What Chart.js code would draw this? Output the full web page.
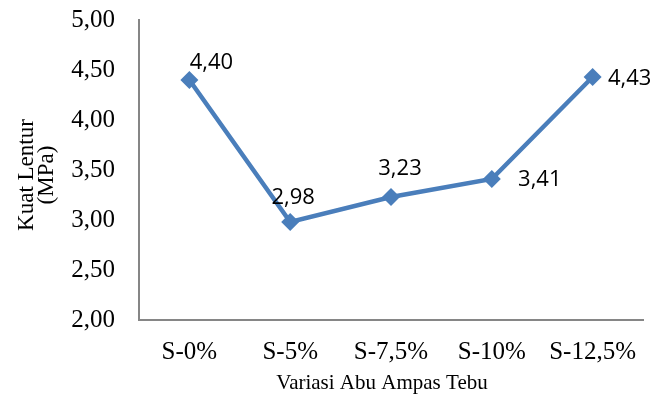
<!DOCTYPE html>
<html>
<head>
<meta charset="utf-8">
<script src="https://cdn.jsdelivr.net/npm/chart.js@4/dist/chart.umd.min.js"></script>
<style>
  html, body { margin: 0; padding: 0; background: #ffffff; }
  #wrap { width: 670px; height: 394px; }
</style>
</head>
<body>
<div id="wrap"><canvas id="c" width="670" height="394"></canvas></div>
<script>
// ---- data ----
const categories = ["S-0%", "S-5%", "S-7,5%", "S-10%", "S-12,5%"];
const kuatLentur = [4.40, 2.98, 3.23, 3.41, 4.43];
const yTickMin = 2.0;
const yTickMax = 5.0;
const yTickStep = 0.5;
const xAxisTitle = "Variasi Abu Ampas Tebu";
const yAxisTitle = ["Kuat Lentur", "(MPa)"];

// ---- style ----
const BLUE = '#4a7ebb';
const AXIS_GRAY = '#868686';
const SERIF = '"Liberation Serif", "Times New Roman", serif';
const SANS = '"Open Sans", Lato, sans-serif';
// label offsets relative to each point (centre of text)
const labelOffsets = [[22, -17], [3, -24], [9, -28], [48, 1], [37, 2]];

function fmt(v) { return v.toFixed(2).replace('.', ','); }

const dataLabels = {
  id: 'dataLabels',
  afterDatasetsDraw(chart) {
    const ctx = chart.ctx;
    const meta = chart.getDatasetMeta(0);
    ctx.save();
    ctx.font = '22px ' + SANS;
    ctx.fillStyle = '#000000';
    ctx.textAlign = 'center';
    ctx.textBaseline = 'middle';
    meta.data.forEach((pt, i) => {
      const o = labelOffsets[i];
      ctx.fillText(fmt(kuatLentur[i]), pt.x + o[0], pt.y + o[1]);
    });
    ctx.restore();
  }
};

const axisTitles = {
  id: 'axisTitles',
  afterDraw(chart) {
    const ctx = chart.ctx;
    const area = chart.chartArea;
    ctx.save();
    ctx.fillStyle = '#000000';
    // x title
    ctx.font = '21px ' + SERIF;
    ctx.textAlign = 'center';
    ctx.textBaseline = 'alphabetic';
    ctx.fillText(xAxisTitle, (area.left + area.right) / 2 - 9, 389);
    // y title (rotated, two lines)
    ctx.font = '23px ' + SERIF;
    const cy = (area.top + area.bottom) / 2 + 5;
    const baseX = [33, 53];
    yAxisTitle.forEach((t, i) => {
      ctx.save();
      ctx.translate(baseX[i], cy);
      ctx.rotate(-Math.PI / 2);
      ctx.textAlign = 'center';
      ctx.textBaseline = 'alphabetic';
      ctx.fillText(t, 0, 0);
      ctx.restore();
    });
    ctx.restore();
  }
};

new Chart(document.getElementById('c'), {
  type: 'line',
  data: {
    labels: categories,
    datasets: [{
      data: kuatLentur,
      borderColor: BLUE,
      backgroundColor: BLUE,
      borderWidth: 4.5,
      tension: 0,
      pointStyle: 'rectRot',
      pointRadius: 9,
      pointHoverRadius: 9,
      pointBackgroundColor: BLUE,
      pointBorderColor: BLUE,
      pointBorderWidth: 0,
      fill: false
    }]
  },
  options: {
    responsive: false,
    animation: false,
    devicePixelRatio: 1,
    layout: { padding: { top: 20, right: 27, left: 0, bottom: 0 } },
    plugins: {
      legend: { display: false },
      tooltip: { enabled: false },
      title: { display: false }
    },
    scales: {
      x: {
        offset: true,
        grid: { display: false, drawTicks: false },
        border: { display: true, color: AXIS_GRAY, width: 2 },
        ticks: {
          color: '#000000',
          font: { family: SERIF, size: 25 },
          padding: 17,
          maxRotation: 0,
          autoSkip: false
        },
        afterFit(scale) { scale.height = 74; }
      },
      y: {
        min: yTickMin,
        max: yTickMax,
        grid: { display: false, drawTicks: false },
        border: { display: true, color: AXIS_GRAY, width: 2 },
        ticks: {
          stepSize: yTickStep,
          color: '#000000',
          font: { family: SERIF, size: 25 },
          padding: 24,
          callback: (v) => fmt(v)
        },
        afterFit(scale) {
          scale.width = 139;
          scale.paddingTop = 0;
          scale.paddingBottom = 0;
        }
      }
    }
  },
  plugins: [dataLabels, axisTitles]
});
</script>
</body>
</html>
